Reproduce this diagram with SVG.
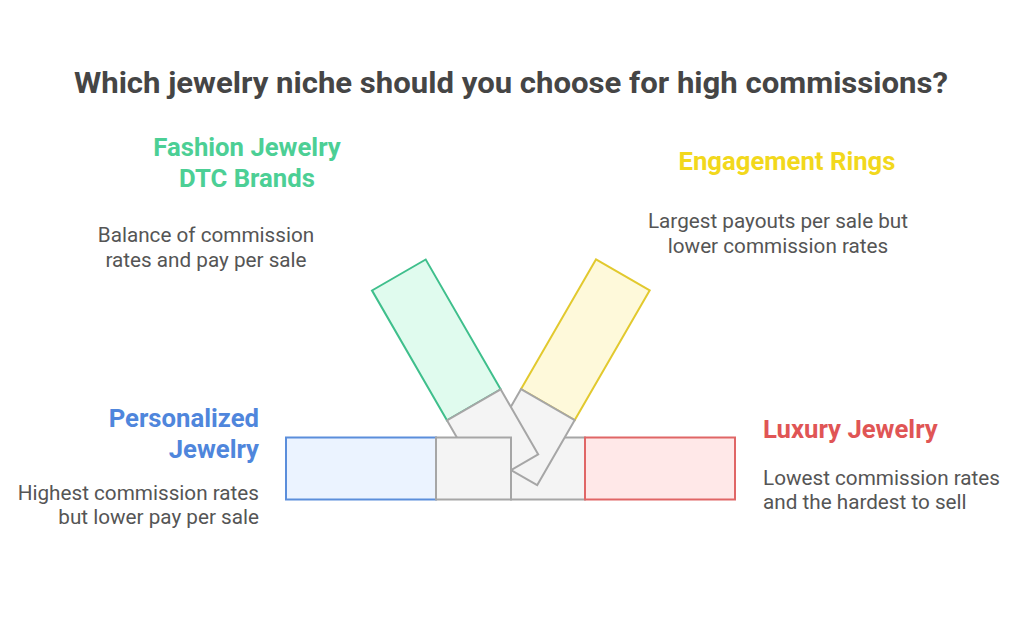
<svg xmlns="http://www.w3.org/2000/svg" width="1024" height="622" viewBox="0 0 1024 622">
<style>
.title{font-family:Roboto,"Liberation Sans",sans-serif;font-weight:700;font-size:30px;fill:#454545}
.lbl{font-family:Roboto,"Liberation Sans",sans-serif;font-weight:700;font-size:25.7px}
.body{font-family:Roboto,"Liberation Sans",sans-serif;font-size:20.7px;fill:#555555}
.gray{fill:#F4F4F4;stroke:#A6A6A6;stroke-width:2}
.blue{fill:#EBF3FF;stroke:#5B8EDB;stroke-width:2}
.red{fill:#FFE8E8;stroke:#E06666;stroke-width:2}
.green{fill:#E0FBEE;stroke:#3FBF8C;stroke-width:2}
.yellow{fill:#FEF9DA;stroke:#E2C92E;stroke-width:2}
</style>
<rect width="1024" height="622" fill="#ffffff"/>
<text class="title" x="511" y="93" text-anchor="middle" textLength="874" lengthAdjust="spacingAndGlyphs">Which jewelry niche should you choose for high commissions?</text>

<g id="luxury-jewelry">
<rect class="gray" x="511" y="437.5" width="74" height="62"/>
<rect class="red" x="585" y="437.5" width="150" height="62"/>
<text class="lbl" x="763" y="438" fill="#E05555">Luxury Jewelry</text>
<text class="body" x="763" y="485">Lowest commission rates</text>
<text class="body" x="763" y="509">and the hardest to sell</text>
</g>

<g id="engagement-rings">
<g transform="translate(596,259.3) rotate(30)">
<rect class="yellow" x="0" y="0" width="62" height="150"/>
<rect class="gray" x="0" y="150" width="62" height="75"/>
</g>
<text class="lbl" x="787" y="170" text-anchor="middle" fill="#F2D81C">Engagement Rings</text>
<text class="body" x="778" y="228" text-anchor="middle">Largest payouts per sale but</text>
<text class="body" x="778" y="253" text-anchor="middle">lower commission rates</text>
</g>

<g id="fashion-jewelry">
<g transform="translate(372,290.5) rotate(-30)">
<rect class="green" x="0" y="0" width="62" height="150"/>
<rect class="gray" x="0" y="150" width="62" height="75"/>
</g>
<text class="lbl" x="247" y="156" text-anchor="middle" fill="#4CCF95">Fashion Jewelry</text>
<text class="lbl" x="247" y="187" text-anchor="middle" fill="#4CCF95">DTC Brands</text>
<text class="body" x="206" y="242" text-anchor="middle">Balance of commission</text>
<text class="body" x="206" y="267" text-anchor="middle">rates and pay per sale</text>
</g>

<g id="personalized-jewelry">
<rect class="blue" x="286" y="437.5" width="150" height="62"/>
<rect class="gray" x="436" y="437.5" width="75" height="62"/>
<text class="lbl" x="259" y="427" text-anchor="end" fill="#4F86DC">Personalized</text>
<text class="lbl" x="259" y="458" text-anchor="end" fill="#4F86DC">Jewelry</text>
<text class="body" x="259" y="500" text-anchor="end">Highest commission rates</text>
<text class="body" x="259" y="524" text-anchor="end">but lower pay per sale</text>
</g>

<g id="connectors"></g>
</svg>
